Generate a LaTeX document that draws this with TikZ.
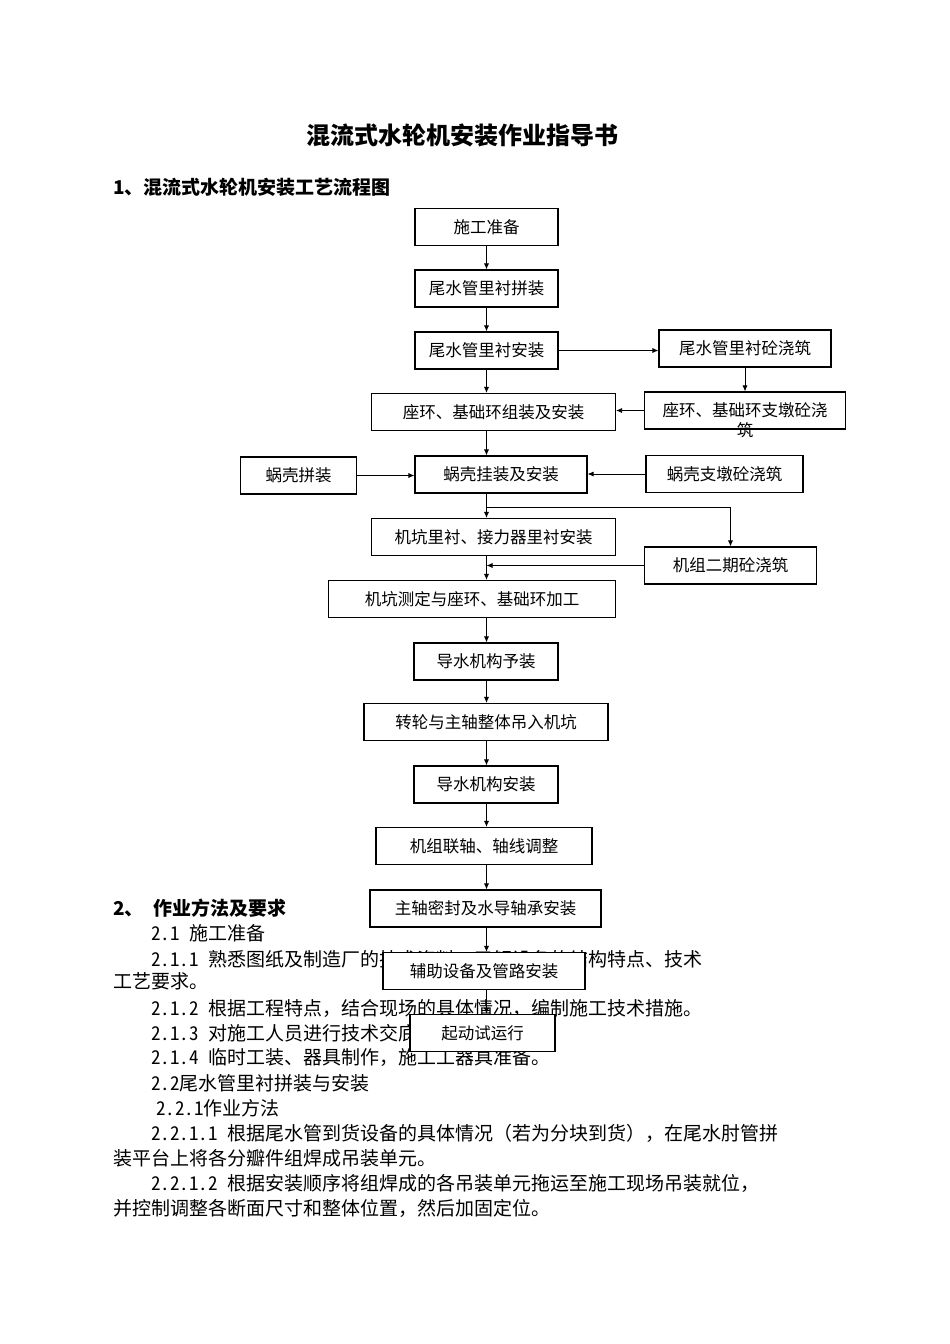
\documentclass[tikz,border=0pt]{standalone}
\usepackage{fontspec}
\setmainfont{Noto Sans CJK SC}
\usetikzlibrary{arrows.meta}
\newcommand\secno[1]{{\addfontfeature{RawFeature=+hwid}#1}}
\tikzset{
    box/.style={draw, line width=1.1pt, fill=white, minimum height=37pt, inner sep=0pt, font=\fontsize{16.5}{19}\selectfont},
    flow/.style={-{Latex[length=6pt,width=5pt]}, line width=0.8pt},
    para/.style={anchor=west, inner sep=0pt, font=\fontsize{19}{23}\selectfont},
}
\begin{document}
\begin{tikzpicture}[x=1pt, y=-1pt]
        \fill[white] (0,0) rectangle (950,1344);
        \useasboundingbox (0,0) rectangle (950,1344);
        \node (title) at (462,135) {\fontsize{24}{28}\selectfont\bfseries 混流式水轮机安装作业指导书};
        \node[para, font=\fontsize{19}{23}\selectfont\bfseries] (h1) at (113,187) {1、混流式水轮机安装工艺流程图};
        \node[para, font=\fontsize{19}{23}\selectfont\bfseries] (h2) at (113,908) {2、\hspace{10pt}作业方法及要求};
        \node[para] (t21) at (151,933) {\secno{2.1 }施工准备};
        \node[para] (t211) at (151,959) {\secno{2.1.1 }熟悉图纸及制造厂的技术资料，了解设备的结构特点、技术};
        \node[para] (t211b) at (113,981) {工艺要求。};
        \node[para] (t212) at (151,1008) {\secno{2.1.2 }根据工程特点，结合现场的具体情况，编制施工技术措施。};
        \node[para] (t213) at (151,1033) {\secno{2.1.3 }对施工人员进行技术交底。};
        \node[para] (t214) at (151,1057) {\secno{2.1.4 }临时工装、器具制作，施工工器具准备。};
        \node[para] (t22) at (151,1083) {\secno{2.2}尾水管里衬拼装与安装};
        \node[para] (t221) at (156,1108) {\secno{2.2.1}作业方法};
        \node[para] (t2211) at (151,1133) {\secno{2.2.1.1 }根据尾水管到货设备的具体情况（若为分块到货），在尾水肘管拼};
        \node[para] (t2211b) at (113,1158) {装平台上将各分瓣件组焊成吊装单元。};
        \node[para] (t2212) at (151,1183) {\secno{2.2.1.2 }根据安装顺序将组焊成的各吊装单元拖运至施工现场吊装就位，};
        \node[para] (t2212b) at (113,1208) {并控制调整各断面尺寸和整体位置，然后加固定位。};

        \node[box, minimum width=143pt] (sg) at (486.5,227) {施工准备};
        \node[box, minimum width=143pt] (pz) at (486.5,288.5) {尾水管里衬拼装};
        \node[box, minimum width=143pt] (az) at (486.5,350.5) {尾水管里衬安装};
        \node[box, minimum width=172pt] (tjz) at (745,348.5) {尾水管里衬砼浇筑};
        \node[box, minimum width=244pt] (zh) at (493.5,412) {座环、基础环组装及安装};
        \node[box, minimum width=201pt] (zd) at (745,410.5) {};
        \node[align=center, inner sep=0pt, font=\fontsize{16.5}{20}\selectfont] (zdt) at (745,420) {座环、基础环支墩砼浇\\筑};
        \node[box, minimum width=116pt] (wp) at (298.5,475.5) {蜗壳拼装};
        \node[box, minimum width=172pt] (wg) at (501,474.5) {蜗壳挂装及安装};
        \node[box, minimum width=157pt] (wd) at (724.5,474) {蜗壳支墩砼浇筑};
        \node[box, minimum width=244pt] (jk) at (493.5,537) {机坑里衬、接力器里衬安装};
        \node[box, minimum width=172pt] (eq) at (730.5,565.5) {机组二期砼浇筑};
        \node[box, minimum width=287pt] (cd) at (472,599) {机坑测定与座环、基础环加工};
        \node[box, minimum width=144pt] (yz) at (486,661.5) {导水机构予装};
        \node[box, minimum width=244pt] (zl) at (486,722) {转轮与主轴整体吊入机坑};
        \node[box, minimum width=144pt] (dz) at (486,784.5) {导水机构安装};
        \node[box, minimum width=216pt] (lz) at (484,846) {机组联轴、轴线调整};
        \node[box, minimum width=231pt] (mf) at (485.5,908.5) {主轴密封及水导轴承安装};
        \node[box, minimum width=202pt] (fz) at (484,971) {辅助设备及管路安装};
        \node[box, minimum width=145pt] (qd) at (482.5,1033) {起动试运行};
        \coordinate (fork) at (486.5,507);

        \draw[flow] (sg) -- (pz);
        \draw[flow] (pz) -- (az);
        \draw[flow] (az.east) -- (az.east -| tjz.west);
        \draw[flow] (tjz) -- (tjz |- zd.north);
        \draw[flow] (zd.west) -- (zd.west -| zh.east);
        \draw[flow] (az) -- (az |- zh.north);
        \draw[flow] (zh.south -| az) -- (az |- wg.north);
        \draw[flow] (wp) -- (wp -| wg.west);
        \draw[flow] (wd) -- (wd -| wg.east);
        \draw[flow] (wg.south -| az) -- (az |- jk.north);
        \draw[flow] (fork) -| (eq.north);
        \draw[flow] (jk.south -| az) -- (az |- cd.north);
        \draw[flow] (eq.west) -- (eq.west -| az);
        \foreach \a/\b in {cd/yz, yz/zl, zl/dz, dz/lz, lz/mf, mf/fz, fz/qd}
            \draw[flow] (\a.south -| az) -- (az |- \b.north);
    \end{tikzpicture}
\end{document}
